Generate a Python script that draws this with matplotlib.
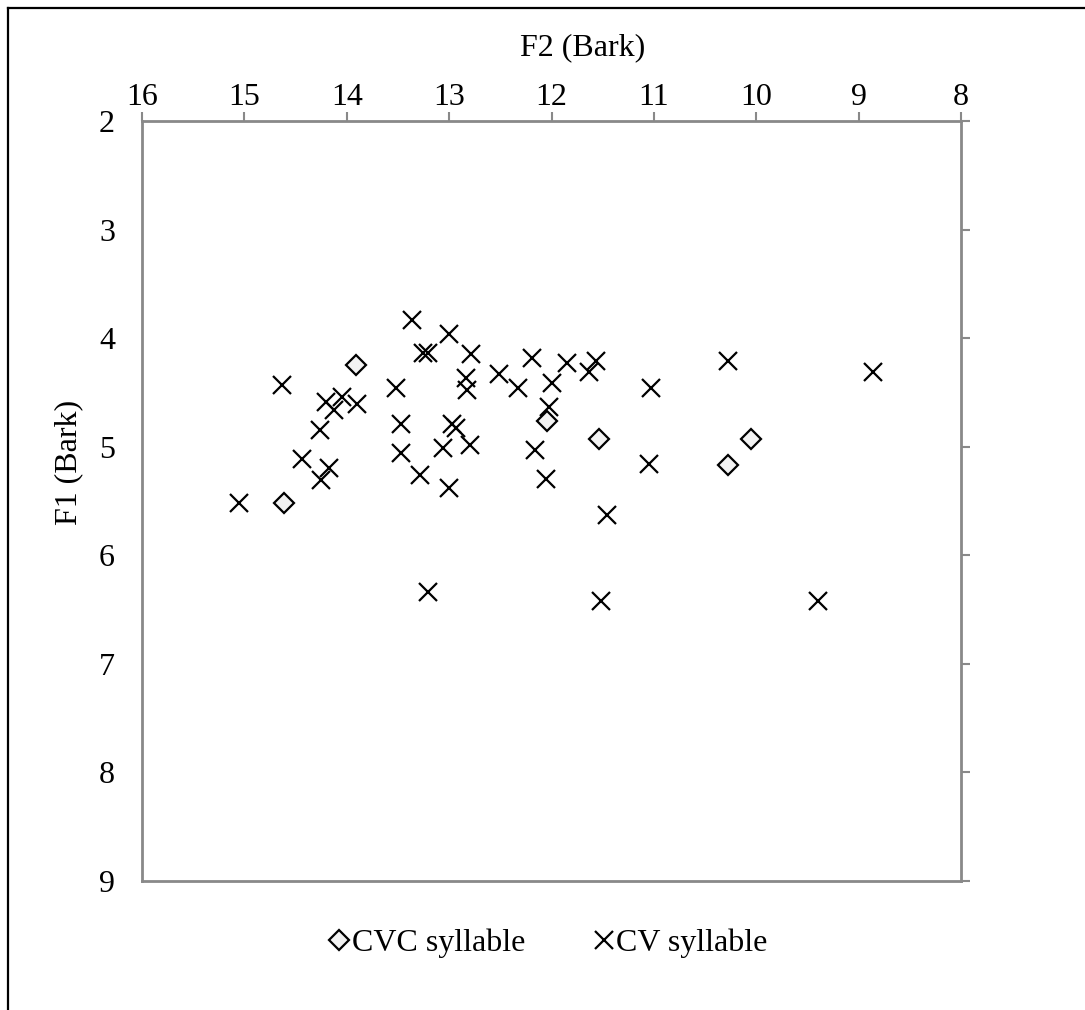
import matplotlib.pyplot as plt
from matplotlib.lines import Line2D

plt.rcParams['font.family'] = ['Liberation Serif', 'DejaVu Serif']

# CVC syllable (diamonds)
cvc_f2 = [13.91, 14.61, 12.04, 11.54, 10.05, 10.28]
cvc_f1 = [4.25, 5.52, 4.76, 4.93, 4.93, 5.17]

# CV syllable (crosses)
cv_f2 = [13.36, 13.00, 13.26, 13.21, 12.79, 14.63, 13.52, 12.84, 12.83, 14.20,
         14.05, 14.12, 13.90, 14.26, 13.47, 12.97, 12.93, 13.06, 12.80, 14.44,
         14.17, 14.25, 13.47, 13.28, 13.00, 12.51, 12.19, 12.33, 11.85, 12.00,
         11.57, 11.63, 10.28, 11.03, 12.02, 12.16, 12.05, 11.05, 11.46, 15.05,
         13.21, 11.52, 9.40, 8.86]
cv_f1 = [3.83, 3.96, 4.14, 4.14, 4.15, 4.43, 4.46, 4.37, 4.48, 4.59,
         4.54, 4.66, 4.61, 4.85, 4.79, 4.79, 4.83, 5.01, 4.98, 5.11,
         5.20, 5.31, 5.06, 5.26, 5.38, 4.33, 4.18, 4.46, 4.23, 4.41,
         4.21, 4.31, 4.21, 4.46, 4.63, 5.03, 5.30, 5.16, 5.63, 5.52,
         6.34, 6.42, 6.42, 4.31]

x_ticks = [16, 15, 14, 13, 12, 11, 10, 9, 8]
y_ticks = [2, 3, 4, 5, 6, 7, 8, 9]

gray = '#898989'
fs = 23

fig = plt.figure(figsize=(10.85, 10.10), dpi=100)
ax = fig.add_axes([0.1309, 0.1277, 0.7548, 0.7525])

ax.plot(cvc_f2, cvc_f1, linestyle='none', marker='D', markersize=10,
        markerfacecolor='#f2f2f2', markeredgecolor='black', markeredgewidth=1.6,
        label='CVC syllable')
ax.plot(cv_f2, cv_f1, linestyle='none', marker='x', markersize=13,
        markeredgecolor='black', markeredgewidth=1.6, label='CV syllable')

ax.set_xlim(16, 8)
ax.set_ylim(9, 2)
ax.set_xticks(x_ticks)
ax.set_yticks(y_ticks)

for s in ax.spines.values():
    s.set_color(gray)
    s.set_linewidth(2)

ax.tick_params(axis='x', top=True, bottom=False, labeltop=True, labelbottom=False,
               direction='out', length=6.5, width=1.5, color=gray, labelsize=fs, pad=0)
ax.tick_params(axis='y', left=False, right=True, labelleft=True, labelright=False,
               direction='out', length=6.5, width=1.5, color=gray, labelsize=fs, pad=13)

ax.set_xlabel('F2 (Bark)', fontsize=fs)
ax.xaxis.set_label_coords(0.538, 1.097)
ax.xaxis.label.set_va('center')
ax.set_ylabel('F1 (Bark)', fontsize=fs)
ax.yaxis.set_label_coords(-0.090, 0.551)
ax.yaxis.label.set_va('center')

ax.legend(loc='center', bbox_to_anchor=(0.505, 0.066), bbox_transform=fig.transFigure,
          ncol=2, frameon=False, fontsize=fs, handlelength=0.7, handletextpad=0.05,
          columnspacing=2.1)

# outer chart frame (only left and top edges visible)
fig.add_artist(Line2D([0.0075, 0.0075], [0, 0.992], color='black', lw=1.6,
                      transform=fig.transFigure))
fig.add_artist(Line2D([0.0075, 1.0], [0.992, 0.992], color='black', lw=1.6,
                      transform=fig.transFigure))

fig.savefig('out.png', dpi=100)
